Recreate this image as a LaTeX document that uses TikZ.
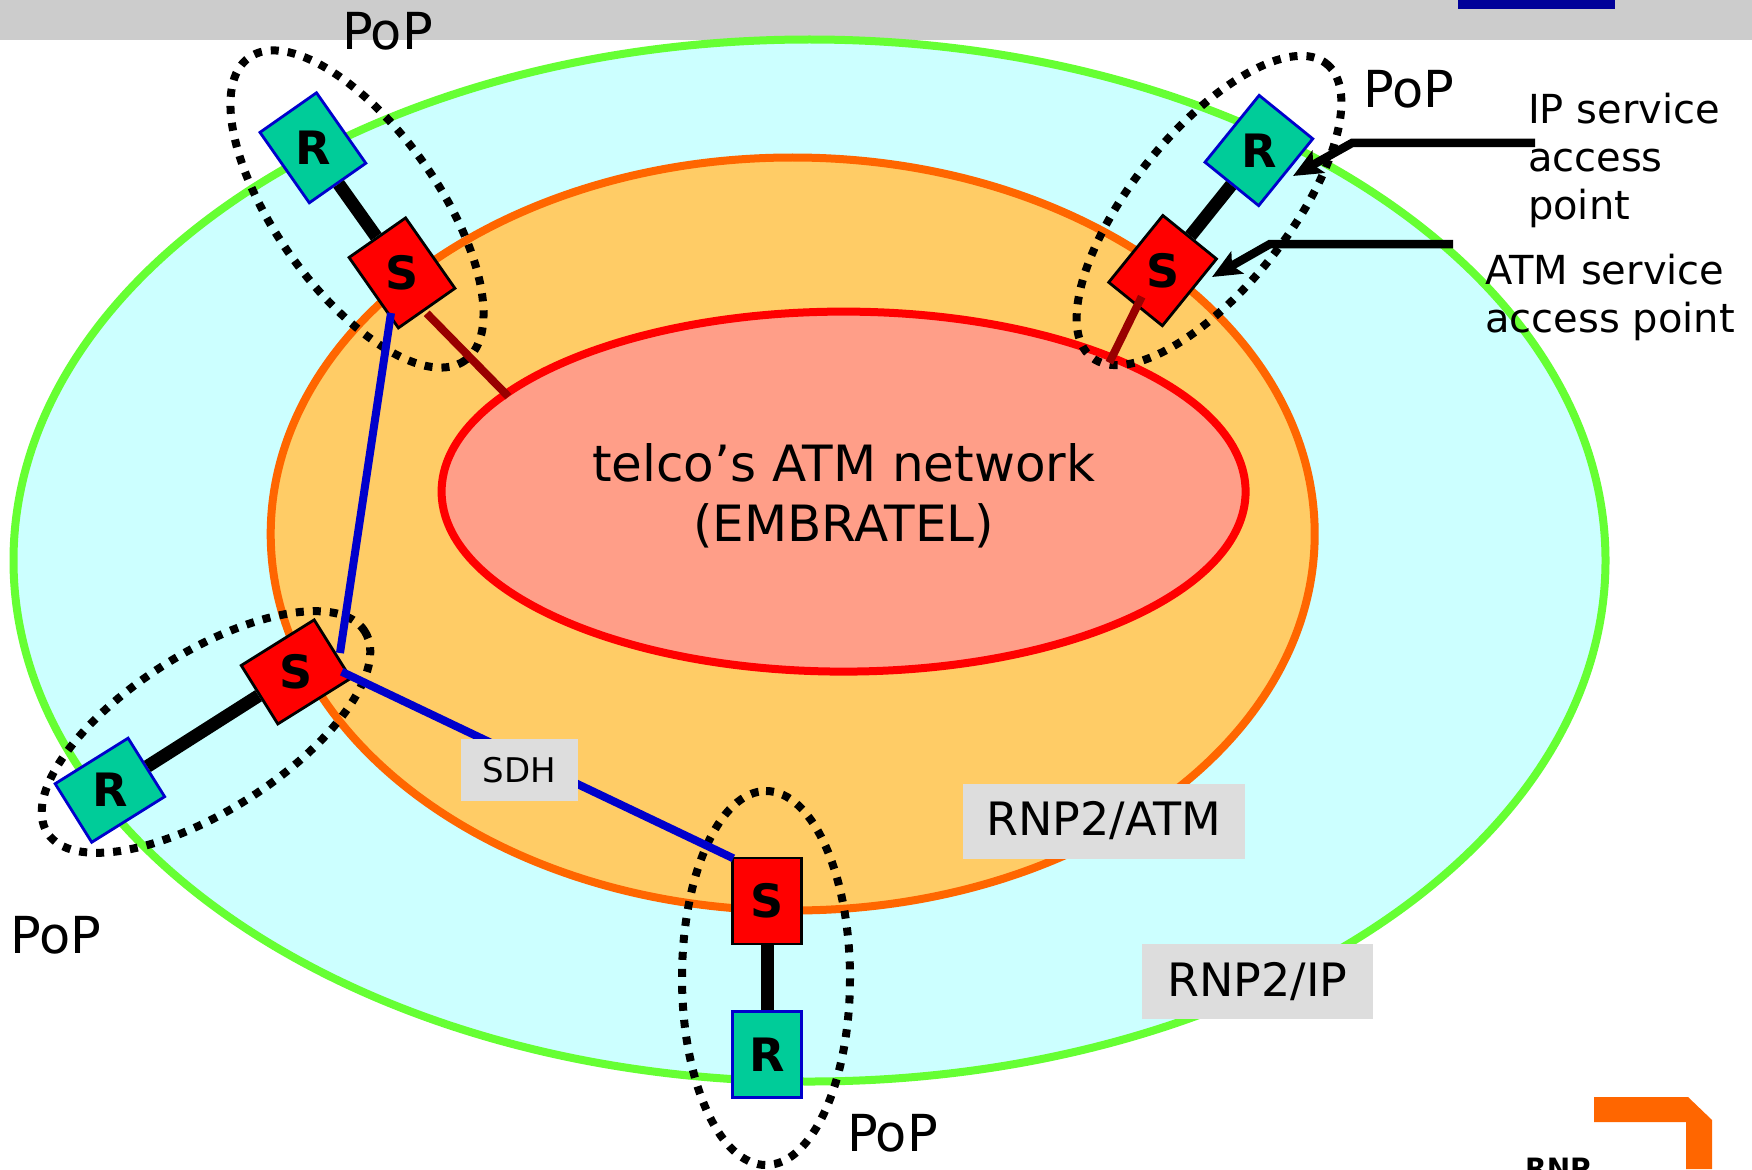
\documentclass[tikz,border=0pt]{standalone}
\usepackage{fontspec}
\setmainfont{DejaVu Sans}
\usetikzlibrary{arrows.meta}
\definecolor{bandgray}{HTML}{CCCCCC}
\definecolor{navyblock}{HTML}{000099}
\definecolor{cyanfill}{HTML}{CCFFFF}
\definecolor{greenline}{HTML}{66FF33}
\definecolor{orangefill}{HTML}{FFCC66}
\definecolor{orangeline}{HTML}{FF6600}
\definecolor{salmonfill}{HTML}{FF9E88}
\definecolor{routerfill}{HTML}{00CC99}
\definecolor{routerblue}{HTML}{0000CC}
\definecolor{switchred}{HTML}{FF0000}
\definecolor{linkblue}{HTML}{0000CC}
\definecolor{maroonline}{HTML}{990000}
\definecolor{labelgray}{HTML}{DDDDDD}
\begin{document}
\begin{tikzpicture}[x=1pt,y=-1pt,
  ring/.style={line width=8pt},
  popring/.style={line width=8pt, dash pattern=on 8pt off 9pt},
  rbox/.style={draw=routerblue, line width=2.8pt, fill=routerfill, minimum width=69pt, minimum height=86pt, inner sep=0pt, font=\fontsize{46}{46}\selectfont\bfseries},
  sbox/.style={rbox, draw=black, fill=switchred},
  pair/.style={line width=13pt},
  sdhlink/.style={draw=linkblue, line width=8pt},
  atmlink/.style={draw=maroonline, line width=8pt},
  tag/.style={fill=labelgray, inner sep=0pt},
  callout/.style={line width=8.5pt, -{Stealth[length=29pt,width=25pt,inset=6pt]}},
  poplabel/.style={anchor=base west, inner sep=0pt, font=\fontsize{51}{60}\selectfont},
  notetext/.style={anchor=north west, align=left, inner sep=0pt, font=\fontsize{40}{48}\selectfont},
]
\useasboundingbox (0,0) rectangle (1752,1169);
\clip (0,0) rectangle (1752,1169);
\fill[white] (0,0) rectangle (1752,1169);
% top band
\fill[bandgray] (0,0) rectangle (1752,40);
\fill[navyblock] (1458,0) rectangle (1615,9);
% nested networks
\draw[ring, draw=greenline, fill=cyanfill] (809.5,560.5) ellipse [x radius=796, y radius=521];
\draw[ring, draw=orangeline, fill=orangefill] (792.7,534) ellipse [x radius=522, y radius=376.5];
\draw[ring, draw=red, fill=salmonfill] (843.6,491.6) ellipse [x radius=402, y radius=180];
\node[anchor=north, align=center, inner sep=0pt, font=\fontsize{50}{60}\selectfont] (core) at (843.7,443.7) {telco’s ATM network\\(EMBRATEL)};
% PoP rings
\draw[popring, shift={(357,209)}, rotate=-54.5] (0,0) ellipse [x radius=186, y radius=81];
\draw[popring, shift={(1209,210.5)}, rotate=51.3] (0,0) ellipse [x radius=188, y radius=78];
\draw[popring, shift={(206,732)}, rotate=32.4] (0,0) ellipse [x radius=188, y radius=79];
\draw[popring, shift={(766,978)}, rotate=90] (0,0) ellipse [x radius=187, y radius=84];
% routers and switches
\node[rbox, rotate=35] (R1) at (312.9,147.8) {\rotatebox{-35}{R}};
\node[sbox, rotate=35] (S1) at (402,272.9) {\rotatebox{-35}{S}};
\node[rbox, rotate=-39] (R2) at (1258.9,150.5) {\rotatebox{39}{R}};
\node[sbox, rotate=-39] (S2) at (1162.6,270.6) {\rotatebox{39}{S}};
\node[sbox, rotate=-58] (S3) at (296,671.9) {\rotatebox{58}{S}};
\node[rbox, rotate=-58] (R3) at (109.9,790.2) {\rotatebox{58}{R}};
\node[sbox] (S4) at (767.2,901) {S};
\node[rbox] (R4) at (767.2,1054.7) {R};
\draw[pair] (R1) -- (S1);
\draw[pair] (R2) -- (S2);
\draw[pair] (R3) -- (S3);
\draw[pair] (S4) -- (R4);
% SDH links
\coordinate (b1a) at (391,313);
\coordinate (b1b) at (340,653);
\coordinate (b2a) at (341.7,671.7);
\coordinate (b2b) at (733.3,858.3);
\draw[sdhlink] (b1a) -- (b1b);
\draw[sdhlink] (b2a) -- (b2b);
% ATM access links
\coordinate (d1a) at (426.7,313.3);
\coordinate (d1b) at (508.4,396.6);
\coordinate (d2a) at (1141.7,296.7);
\coordinate (d2b) at (1109.3,362.7);
\draw[atmlink] (d1a) -- (d1b);
\draw[atmlink] (d2a) -- (d2b);
% labels
\node[tag, minimum width=117pt, minimum height=62pt, font=\fontsize{34}{34}\selectfont] (sdh) at (519.3,770) {SDH};
\node[tag, minimum width=282pt, minimum height=75pt, font=\fontsize{46}{46}\selectfont] (rnpatm) at (1103.8,821) {RNP2/ATM};
\node[tag, minimum width=231pt, minimum height=75pt, font=\fontsize{46}{46}\selectfont] (rnpip) at (1257.2,981.7) {RNP2/IP};
\node[poplabel] (pop1) at (341.8,49.3) {PoP};
\node[poplabel] (pop2) at (1363.1,107.3) {PoP};
\node[poplabel] (pop3) at (10.1,953.3) {PoP};
\node[poplabel] (pop4) at (846.8,1151.7) {PoP};
\node[notetext] (iptext) at (1527.8,92.9) {IP service\\access\\point};
\node[notetext] (atmtext) at (1485,253.6) {ATM service\\access point};
% callout arrows
\coordinate (ipTail) at (1535,143);
\coordinate (ipBend) at (1352,143);
\coordinate (ipTip) at (1293,176);
\draw[callout] (ipTail) -- (ipBend) -- (ipTip);
\coordinate (atmTail) at (1453,244);
\coordinate (atmBend) at (1270,244);
\coordinate (atmTip) at (1212,277);
\draw[callout] (atmTail) -- (atmBend) -- (atmTip);
% logo corner
\fill[orangeline] (1594,1097) -- (1688,1097) -- (1712,1120) -- (1712,1169) -- (1686,1169) -- (1686,1122) -- (1594,1122) -- cycle;
\node[anchor=base west, inner sep=0pt, font=\fontsize{28}{28}\selectfont\bfseries] (rnp) at (1525,1178.7) {RNP};
\end{tikzpicture}
\end{document}
